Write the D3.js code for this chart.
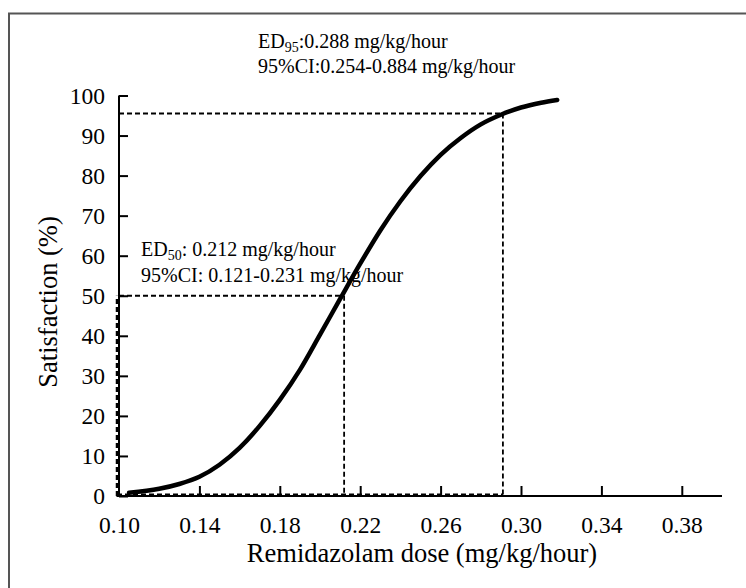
<!DOCTYPE html>
<html><head><meta charset="utf-8">
<script src="https://cdn.jsdelivr.net/npm/d3@7"></script>
<style>
html,body{margin:0;padding:0;background:#fff;}
svg{display:block;}
text{font-family:"Liberation Serif","Times New Roman",serif;fill:#000;}
</style></head>
<body>
<svg id="c" width="746" height="588"></svg>
<script>
// Data
const doses = [0.105, 0.12, 0.13, 0.14, 0.15, 0.16, 0.17, 0.18, 0.19, 0.20, 0.21, 0.22, 0.23, 0.24, 0.25, 0.26, 0.27, 0.28, 0.29, 0.30, 0.31, 0.318];
const satisfaction = [0.8, 1.8, 3, 4.8, 7.8, 12, 17.5, 24, 31.5, 40.3, 49.2, 58, 66.3, 73.6, 79.9, 85.2, 89.4, 92.8, 95.2, 97, 98.2, 98.9];
const xTicks = [0.10, 0.14, 0.18, 0.22, 0.26, 0.30, 0.34, 0.38];
const yTicks = [0, 10, 20, 30, 40, 50, 60, 70, 80, 90, 100];
const ed50 = {dose: 0.212, sat: 50};
const ed95 = {dose: 0.291, sat: 95.5};
const ed95Label = ["0.288", "0.254-0.884"];
const ed50Label = ["0.212", "0.121-0.231"];

const svg = d3.select("#c");
const x = d3.scaleLinear().domain([0.10, 0.40]).range([119, 722]);
const y = d3.scaleLinear().domain([0, 100]).range([496, 95.5]);

// outer frame (top and left visible)
svg.append("path").attr("d", "M9,588 L9,13.5 L746,13.5")
  .attr("fill", "none").attr("stroke", "#555").attr("stroke-width", 2);

// dashed reference lines
const dash = svg.append("g").attr("fill", "none").attr("stroke", "#000")
  .attr("stroke-width", 1.8).attr("stroke-dasharray", "5,3");
[ed50, ed95].forEach(e => {
  dash.append("line").attr("x1", x(0.10)).attr("x2", x(e.dose)).attr("y1", y(e.sat)).attr("y2", y(e.sat));
  dash.append("line").attr("x1", x(e.dose)).attr("x2", x(e.dose)).attr("y1", y(e.sat)).attr("y2", y(0));
});
dash.append("line").attr("x1", x(0.10) - 2).attr("x2", x(0.10) - 2).attr("y1", y(0)).attr("y2", y(ed50.sat)).attr("stroke-width", 2.5);
dash.append("line").attr("x1", x(0.10) - 2).attr("x2", x(ed95.dose)).attr("y1", y(0) - 1.5).attr("y2", y(0) - 1.5).attr("stroke-width", 2);

// axes
const xAxis = svg.append("g").attr("transform", `translate(0,${y(0)})`)
  .call(d3.axisBottom(x).tickValues(xTicks).tickFormat(d3.format(".2f"))
    .tickSizeInner(-10).tickSizeOuter(0).tickPadding(20));
xAxis.select(".domain").attr("d", `M${x(0.10) - 2.5},0H${x(0.40)}`);
xAxis.selectAll(".tick").filter(d => d === 0.10).select("line").remove();

const yAxis = svg.append("g").attr("transform", `translate(${x(0.10)},0)`)
  .call(d3.axisLeft(y).tickValues(yTicks).tickSizeInner(-9).tickSizeOuter(0).tickPadding(14));
yAxis.select(".domain").attr("d", `M0,${y(100)}V${y(0)}`);

[xAxis, yAxis].forEach(g => {
  g.selectAll(".domain,.tick line").attr("stroke", "#000").attr("stroke-width", 2);
  g.selectAll(".tick text").attr("font-family", "Liberation Serif").attr("font-size", 23.5).attr("fill", "#000");
});

// curve
const line = d3.line().x((d, i) => x(doses[i])).y(d => y(d)).curve(d3.curveMonotoneX);
svg.append("path").datum(satisfaction).attr("d", line)
  .attr("fill", "none").attr("stroke", "#000").attr("stroke-width", 4.5).attr("stroke-linecap", "round");

// axis titles
svg.append("text").attr("x", 422).attr("y", 562).attr("text-anchor", "middle")
  .attr("font-size", 26.5).text("Remidazolam dose (mg/kg/hour)");
svg.append("text").attr("transform", "translate(57,302) rotate(-90)").attr("text-anchor", "middle")
  .attr("font-size", 26.5).text("Satisfaction (%)");

// annotations
function ed(xp, yp, sub, vals, size, sp) {
  const t1 = svg.append("text").attr("x", xp).attr("y", yp).attr("font-size", size);
  t1.append("tspan").text("ED");
  t1.append("tspan").attr("font-size", size * 0.7).attr("dy", 4).text(sub);
  t1.append("tspan").attr("dy", -4).text(":" + sp + vals[0] + " mg/kg/hour");
  svg.append("text").attr("x", xp).attr("y", yp + 25.5).attr("font-size", size)
    .text("95%CI:" + sp + vals[1] + " mg/kg/hour");
}
ed(258, 47.5, "95", ed95Label, 20, "");
ed(141, 256, "50", ed50Label, 20, " ");
</script>
</body></html>
